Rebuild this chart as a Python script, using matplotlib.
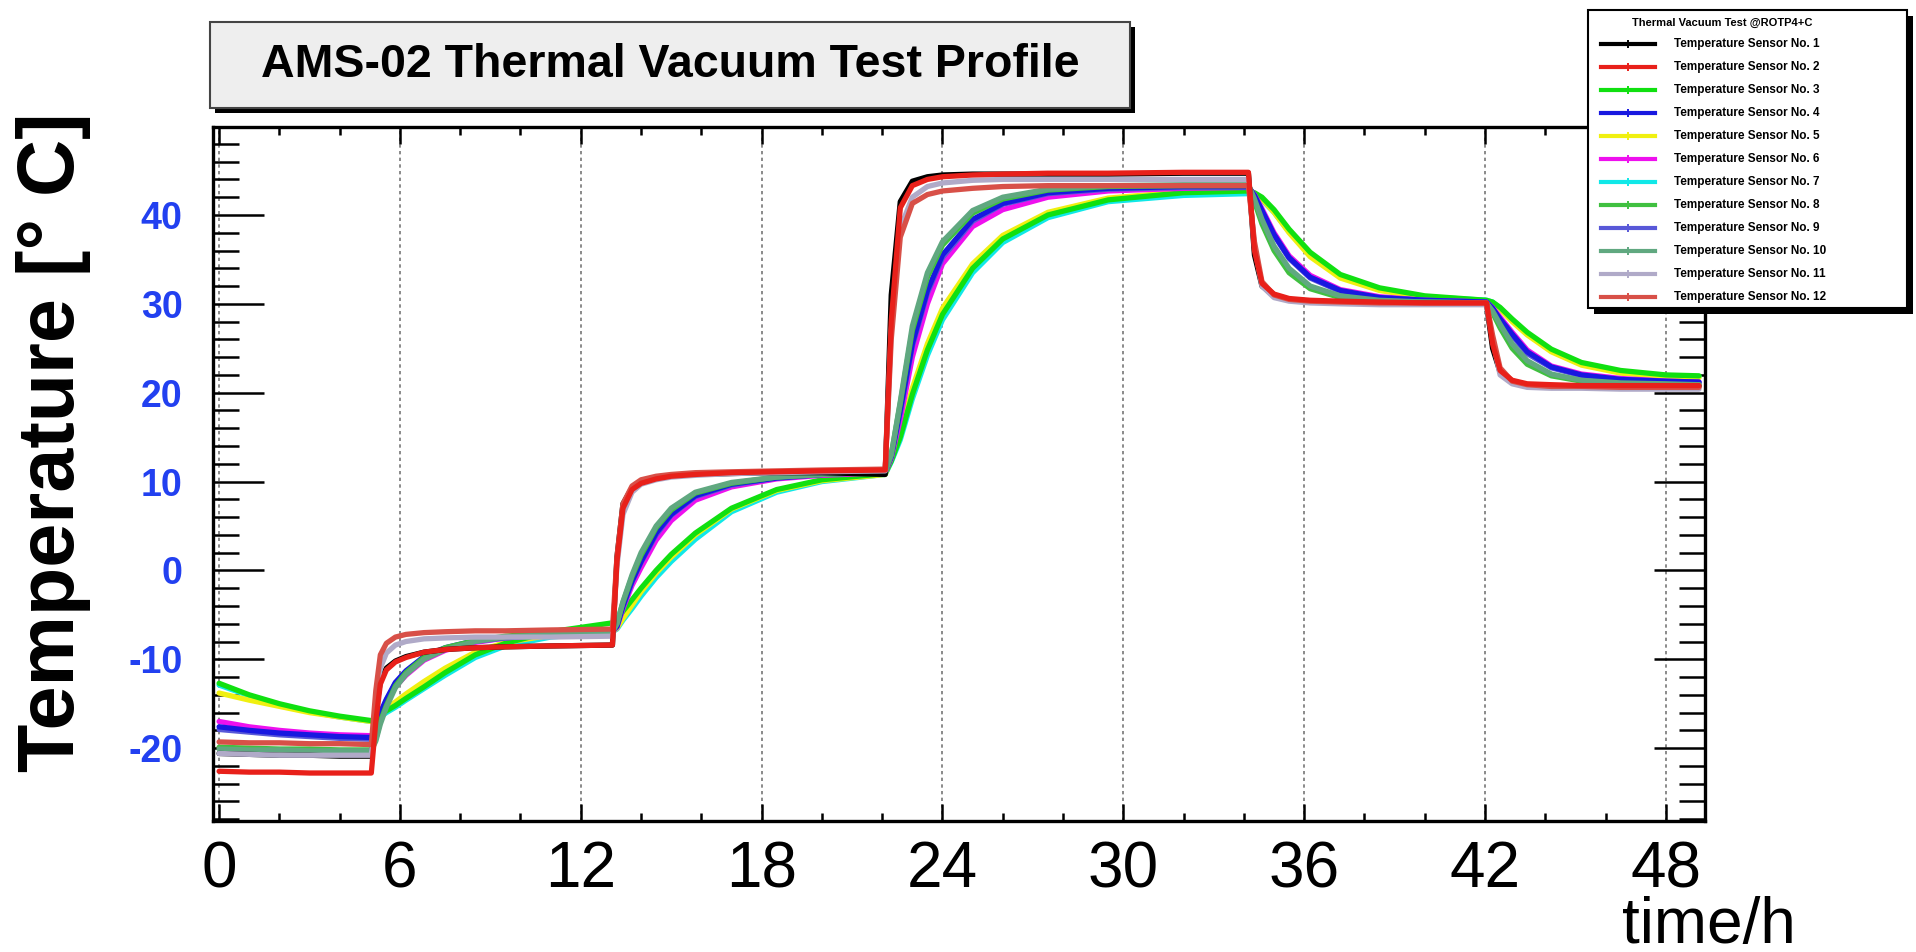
import numpy as np
import matplotlib.pyplot as plt
from matplotlib.patches import Rectangle
from matplotlib.lines import Line2D
from matplotlib.ticker import MultipleLocator

plt.rcParams['font.family'] = ['Liberation Sans', 'DejaVu Sans']
plt.rcParams['axes.unicode_minus'] = False

# time axis shared by all sensors (hours)
time_h = [0, 1, 2, 3, 4, 5.05,
          5.2, 5.35, 5.55, 5.85, 6.2, 6.8, 7.5, 8.5, 9.5, 11, 13.05,
          13.2, 13.4, 13.7, 14.0, 14.5, 15.0, 15.8, 17.0, 18.5, 20.0, 22.1,
          22.3, 22.6, 23.0, 23.5, 24.0, 25.0, 26.0, 27.5, 29.5, 32.0, 34.15,
          34.35, 34.6, 35.0, 35.5, 36.2, 37.2, 38.5, 40.0, 42.05,
          42.25, 42.5, 42.9, 43.4, 44.2, 45.2, 46.5, 48.0, 49.1]

# temperature readings per sensor (deg C)
temp_s1 = [-20.6, -20.7, -20.8, -20.8, -20.9, -20.9,
           -16.0, -12.5, -11.0, -10.2, -9.7, -9.2, -8.9, -8.7, -8.6, -8.5, -8.4,
           1.5, 7.5, 9.3, 10.0, 10.4, 10.6, 10.8, 10.9, 11.0, 11.0, 10.8,
           31.0, 41.5, 43.8, 44.3, 44.5, 44.6, 44.6, 44.6, 44.6, 44.7, 44.7,
           35.5, 32.0, 30.9, 30.5, 30.3, 30.2, 30.1, 30.1, 30.0,
           25.0, 22.3, 21.3, 20.9, 20.8, 20.7, 20.7, 20.7, 20.7]
temp_s2 = [-22.6, -22.7, -22.7, -22.8, -22.8, -22.8,
           -17.0, -12.8, -11.2, -10.3, -9.8, -9.2, -8.9, -8.7, -8.6, -8.5, -8.4,
           1.0, 7.0, 9.1, 9.8, 10.3, 10.6, 10.8, 11.0, 11.1, 11.2, 11.3,
           28.0, 40.8, 43.3, 44.0, 44.3, 44.5, 44.6, 44.7, 44.7, 44.8, 44.8,
           36.0, 32.3, 31.1, 30.6, 30.4, 30.3, 30.2, 30.1, 30.1,
           25.5, 22.5, 21.4, 21.0, 20.9, 20.8, 20.8, 20.8, 20.8]
temp_s3 = [-12.7, -14.0, -15.0, -15.8, -16.4, -16.9,
           -16.8, -16.3, -15.8, -15.2, -14.4, -13.1, -11.5, -9.5, -8.2, -6.9, -5.9,
           -5.5, -4.6, -3.3, -2.0, 0.0, 1.8, 4.2, 7.0, 9.1, 10.2, 10.9,
           12.3, 15.0, 19.8, 24.8, 28.8, 34.0, 37.3, 40.0, 41.7, 42.5, 42.7,
           42.5, 42.0, 40.6, 38.4, 35.8, 33.3, 31.8, 30.9, 30.4,
           30.2, 29.6, 28.3, 26.8, 24.9, 23.4, 22.5, 22.0, 21.9]
temp_s4 = [-17.6, -18.0, -18.3, -18.5, -18.7, -18.8,
           -17.8, -16.0, -14.5, -12.6, -11.3, -9.7, -8.7, -7.9, -7.5, -7.1, -6.8,
           -6.3, -4.0, -1.2, 1.0, 4.2, 6.3, 8.4, 9.7, 10.4, 10.8, 11.1,
           12.8, 18.0, 25.5, 31.5, 35.5, 39.5, 41.3, 42.5, 43.0, 43.2, 43.2,
           42.2, 40.5, 37.8, 35.2, 33.0, 31.5, 30.7, 30.4, 30.2,
           29.5, 28.3, 26.6, 24.6, 22.9, 22.0, 21.5, 21.3, 21.2]
temp_s5 = [-13.8, -14.6, -15.3, -16.0, -16.5, -17.0,
           -16.7, -16.1, -15.5, -14.8, -13.9, -12.5, -11.0, -9.2, -8.1, -7.3, -6.9,
           -6.5, -5.4, -3.9, -2.4, -0.3, 1.5, 4.0, 6.9, 9.0, 10.1, 10.8,
           12.5, 15.5, 20.5, 25.5, 29.5, 34.5, 37.7, 40.3, 41.9, 42.6, 42.8,
           42.4, 41.8, 40.3, 38.0, 35.3, 32.9, 31.5, 30.7, 30.3,
           30.1, 29.4, 28.0, 26.5, 24.6, 23.1, 22.2, 21.8, 21.7]
temp_s6 = [-17.0, -17.6, -18.0, -18.3, -18.5, -18.6,
           -17.9, -16.3, -14.9, -13.1, -11.8, -10.1, -9.0, -8.1, -7.6, -7.2, -6.9,
           -6.4, -4.3, -1.7, 0.3, 3.4, 5.6, 7.9, 9.4, 10.3, 10.7, 11.0,
           12.6, 17.0, 24.0, 30.0, 34.5, 38.7, 40.6, 42.0, 42.7, 43.0, 43.1,
           42.3, 40.7, 38.0, 35.4, 33.2, 31.6, 30.8, 30.4, 30.2,
           29.6, 28.5, 26.8, 24.8, 23.0, 22.1, 21.6, 21.3, 21.2]
temp_s7 = [-12.9, -14.1, -15.1, -15.9, -16.5, -17.0,
           -16.9, -16.5, -16.0, -15.4, -14.6, -13.3, -11.8, -9.8, -8.5, -7.5, -6.9,
           -6.6, -5.6, -4.3, -2.9, -0.8, 1.0, 3.5, 6.6, 8.8, 10.0, 10.8,
           12.2, 14.7, 19.3, 24.2, 28.2, 33.5, 36.9, 39.7, 41.5, 42.2, 42.4,
           42.2, 41.7, 40.3, 38.1, 35.5, 33.1, 31.7, 30.8, 30.4,
           30.2, 29.5, 28.1, 26.6, 24.7, 23.2, 22.3, 21.9, 21.8]
temp_s8 = [-19.9, -20.0, -20.1, -20.1, -20.2, -20.2,
           -19.0, -17.0, -15.2, -13.0, -11.5, -9.8, -8.7, -7.9, -7.4, -7.0, -6.7,
           -6.0, -3.6, -0.7, 1.7, 4.8, 6.8, 8.7, 9.8, 10.5, 10.8, 11.1,
           13.0, 18.8, 27.0, 33.0, 36.6, 40.2, 41.8, 42.8, 43.2, 43.3, 43.3,
           41.5, 39.0, 36.0, 33.5, 31.7, 30.7, 30.3, 30.2, 30.1,
           29.0, 27.3, 25.0, 23.2, 21.9, 21.3, 21.0, 20.9, 20.9]
temp_s9 = [-17.9, -18.2, -18.5, -18.7, -18.9, -19.0,
           -18.0, -16.2, -14.6, -12.7, -11.4, -9.8, -8.8, -8.0, -7.6, -7.2, -6.9,
           -6.3, -4.1, -1.3, 0.9, 4.0, 6.2, 8.3, 9.6, 10.4, 10.8, 11.1,
           12.8, 17.8, 25.2, 31.2, 35.2, 39.3, 41.2, 42.4, 42.9, 43.1, 43.1,
           42.2, 40.4, 37.7, 35.1, 32.9, 31.4, 30.7, 30.4, 30.2,
           29.5, 28.2, 26.4, 24.4, 22.8, 21.9, 21.4, 21.2, 21.1]
temp_s10 = [-20.1, -20.2, -20.2, -20.3, -20.3, -20.3,
            -19.2, -17.3, -15.4, -13.2, -11.7, -10.0, -8.9, -8.0, -7.5, -7.2, -7.0,
            -6.0, -3.5, -0.5, 2.0, 5.0, 7.0, 8.8, 9.9, 10.5, 10.8, 11.1,
            13.0, 19.0, 27.5, 33.5, 37.0, 40.5, 42.0, 42.9, 43.3, 43.4, 43.4,
            41.8, 39.5, 36.5, 34.0, 32.0, 30.9, 30.4, 30.2, 30.1,
            29.2, 27.7, 25.5, 23.6, 22.1, 21.4, 21.1, 21.0, 20.9]
temp_s11 = [-20.6, -20.7, -20.8, -20.8, -20.8, -20.8,
            -15.0, -11.0, -9.3, -8.4, -8.0, -7.7, -7.6, -7.5, -7.5, -7.5, -7.4,
            0.5, 6.3, 8.8, 9.7, 10.2, 10.5, 10.7, 10.9, 11.0, 11.1, 11.2,
            27.0, 38.5, 42.0, 43.2, 43.6, 43.9, 44.0, 44.0, 44.0, 44.0, 44.0,
            36.5, 32.0, 30.7, 30.3, 30.1, 30.0, 29.9, 29.9, 29.9,
            26.0, 22.0, 21.0, 20.6, 20.5, 20.5, 20.4, 20.4, 20.4]
temp_s12 = [-19.3, -19.4, -19.4, -19.5, -19.5, -19.6,
            -13.5, -9.5, -8.2, -7.5, -7.2, -7.0, -6.9, -6.8, -6.8, -6.7, -6.6,
            1.5, 7.5, 9.5, 10.2, 10.6, 10.8, 11.0, 11.1, 11.2, 11.3, 11.4,
            26.0, 37.5, 41.3, 42.3, 42.7, 43.0, 43.2, 43.3, 43.3, 43.3, 43.3,
            37.0, 32.5, 31.0, 30.5, 30.3, 30.2, 30.1, 30.1, 30.1,
            26.5, 22.8, 21.3, 20.9, 20.7, 20.7, 20.6, 20.6, 20.6]

sensor_names = ['Temperature Sensor No. %d' % i for i in range(1, 13)]
sensor_colors = ['#000000', '#e8201a', '#10e010', '#1818e0', '#f0f010', '#ee10ee',
                 '#10e8e8', '#40c040', '#5858d8', '#60a880', '#b0aac8', '#d85048']
sensor_temps = [temp_s1, temp_s2, temp_s3, temp_s4, temp_s5, temp_s6,
                temp_s7, temp_s8, temp_s9, temp_s10, temp_s11, temp_s12]
draw_order = [6, 4, 2, 5, 8, 3, 7, 9, 0, 10, 11, 1]
x_ticks = [0, 6, 12, 18, 24, 30, 36, 42, 48]

fig = plt.figure(figsize=(19.16, 9.52), dpi=100)
ax = fig.add_axes([0.1112, 0.1376, 0.7787, 0.729])

for i in draw_order:
    ax.plot(time_h, sensor_temps[i], color=sensor_colors[i], lw=3.8,
            solid_joinstyle='round', solid_capstyle='round', zorder=3)

ax.set_xlim(-0.2, 49.3)
ax.set_ylim(-28.2, 49.9)
ax.xaxis.set_minor_locator(MultipleLocator(2))
ax.yaxis.set_minor_locator(MultipleLocator(2))
ax.grid(axis='x', which='major', color='#777777', ls=(0, (2, 2)), lw=1.2, zorder=1)

for s in ax.spines.values():
    s.set_linewidth(2.4)
ax.tick_params(which='both', direction='in', top=True, right=True, width=1.8)
ax.tick_params(axis='y', which='major', length=37, pad=22)
ax.tick_params(axis='y', which='minor', length=19)
ax.tick_params(axis='x', which='major', length=12, pad=14)
ax.tick_params(axis='x', which='minor', length=6)
ax.set_yticks([-20, -10, 0, 10, 20, 30, 40])
for lab in ax.get_yticklabels():
    lab.set_color('#2240f0')
    lab.set_fontweight('bold')
    lab.set_fontsize(27)
ax.set_xticks(x_ticks)
ax.set_xticklabels([str(v) for v in x_ticks], fontsize=46)

fig.text(0.028, 0.535, 'Temperature [° C]', fontsize=57, fontweight='bold',
         rotation=90, ha='center', va='center')
fig.text(0.892, -0.004, 'time/h', fontsize=46, ha='center', va='bottom')

# title box with shadow
fig.patches.append(Rectangle((0.1123, 0.8813), 0.4802, 0.0903, transform=fig.transFigure,
                             facecolor='black', edgecolor='none', zorder=0))
fig.patches.append(Rectangle((0.1096, 0.8866), 0.4802, 0.0903, transform=fig.transFigure,
                             facecolor='#eeeeee', edgecolor='#444444', lw=1.5, zorder=1))
fig.text(0.3497, 0.932, 'AMS-02 Thermal Vacuum Test Profile', fontsize=33.5,
         fontweight='bold', ha='center', va='center')

# legend box with shadow
lax = fig.add_axes([0.8288, 0.6765, 0.1665, 0.313])
lax.set_xlim(0, 1)
lax.set_ylim(0, 1)
lax.axis('off')
lax.add_patch(Rectangle((0.02, -0.02), 1.0, 1.0, transform=lax.transAxes,
                        facecolor='black', edgecolor='none', clip_on=False))
lax.add_patch(Rectangle((0, 0), 1.0, 1.0, transform=lax.transAxes,
                        facecolor='white', edgecolor='black', lw=1.5, clip_on=False))
lax.text(0.42, 0.955, 'Thermal Vacuum Test @ROTP4+C', fontsize=8, fontweight='bold',
         ha='center', va='center')
for i in range(12):
    yy = 1 - (33.6 + i * 23.0) / 298
    lax.add_line(Line2D([0.04, 0.21], [yy, yy], color=sensor_colors[i], lw=3))
    lax.add_line(Line2D([0.125], [yy], color=sensor_colors[i], marker='|', ms=6, mew=1.4))
    lax.text(0.27, yy, sensor_names[i], fontsize=8.5, fontweight='bold', ha='left', va='center')

fig.savefig('out.png', dpi=100)
